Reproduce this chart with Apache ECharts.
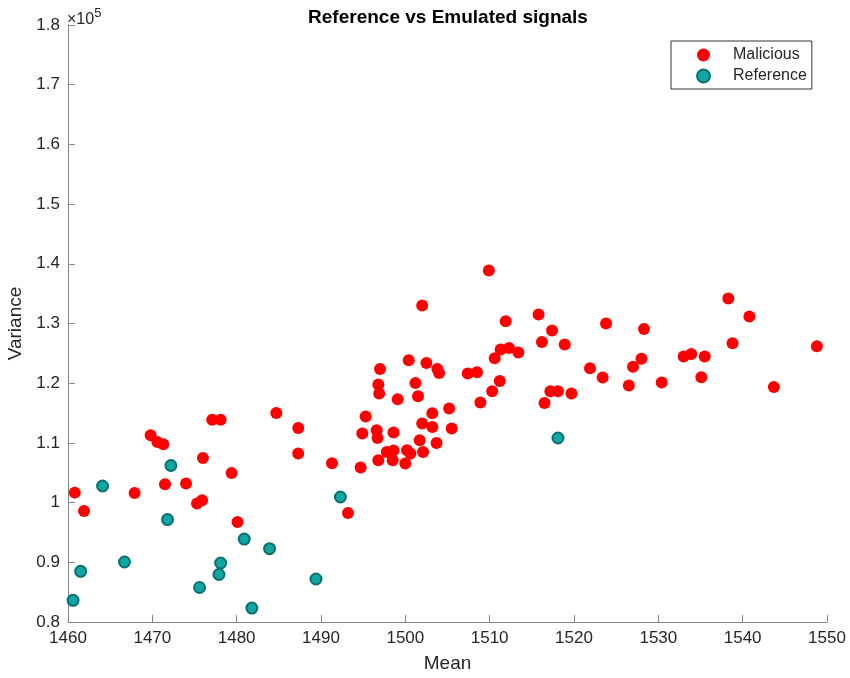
<!DOCTYPE html>
<html>
<head>
<meta charset="utf-8">
<script src="https://cdn.jsdelivr.net/npm/echarts@6/dist/echarts.min.js"></script>
<style>
  html, body { margin: 0; padding: 0; background: #fff; }
  #chart { width: 850px; height: 678px; }
</style>
</head>
<body>
<div id="chart"></div>
<script>
// Malicious signals: mean and variance
const maliciousMean = [
  1460.8, 1461.9, 1467.9, 1469.8, 1470.6, 1471.3, 1471.5, 1474.0, 1475.3, 1475.9,
  1476.0, 1477.1, 1478.1, 1479.4, 1480.1, 1484.7, 1487.3, 1487.3, 1491.3, 1493.2,
  1494.7, 1494.9, 1495.3, 1496.6, 1496.7, 1496.8, 1496.9, 1497.0, 1496.8, 1497.8,
  1498.6, 1498.5, 1498.6, 1499.1, 1500.0, 1500.2, 1500.6, 1500.4, 1501.2, 1501.5,
  1501.7, 1502.0, 1502.0, 1502.1, 1502.5, 1503.2, 1503.2, 1503.7, 1503.8, 1504.0,
  1505.2, 1505.5, 1507.4, 1508.5, 1508.9, 1509.9, 1510.3, 1510.6, 1511.2, 1511.3,
  1511.9, 1512.3, 1513.4, 1515.8, 1516.2, 1516.5, 1517.2, 1517.4, 1518.1, 1518.9,
  1519.7, 1521.9, 1523.4, 1523.8, 1526.5, 1527.0, 1528.0, 1528.3, 1530.4, 1533.0,
  1533.9, 1535.1, 1535.5, 1538.3, 1538.8, 1540.8, 1543.7, 1548.8
];
const maliciousVar = [
  101670, 98590, 101610, 111270, 110150, 109770, 103070, 103180, 99830, 100390,
  107470, 113870, 113870, 104960, 96750, 115010, 112500, 108210, 106580, 98260,
  105860, 111560, 114410, 112110, 110820, 119770, 118260, 122380, 107090, 108480,
  108710, 107090, 111730, 117300, 106530, 108760, 108210, 123840, 120030, 117810,
  110440, 113230, 133000, 108480, 123380, 114960, 112660, 109980, 122380, 121710,
  115750, 112400, 121610, 121830, 116750, 138860, 118640, 124170, 120370, 125630,
  130370, 125900, 125130, 131490, 126900, 116680, 118640, 128810, 118640, 126470,
  118260, 122500, 120940, 130000, 119610, 122750, 124090, 129080, 120100, 124460,
  124890, 120990, 124460, 134170, 126680, 131160, 119360, 126180
];

// Reference signals: mean and variance
const referenceMean = [
  1460.6, 1461.5, 1464.1, 1466.7, 1471.8, 1472.2, 1475.6, 1477.9, 1478.1, 1480.9,
  1481.8, 1483.9, 1489.4, 1492.3, 1518.1
];
const referenceVar = [
  83630, 88490, 102780, 90050, 97150, 106210, 85780, 87960, 89880, 93890,
  82330, 92290, 87200, 100940, 110820
];

// Axis tick values (variance ticks in units of 1e5)
const meanTicks = [1460, 1470, 1480, 1490, 1500, 1510, 1520, 1530, 1540, 1550];
const varianceTicks = [0.8, 0.9, 1.0, 1.1, 1.2, 1.3, 1.4, 1.5, 1.6, 1.7, 1.8];
const varianceScale = 1e5;

const pair = (xs, ys) => xs.map((x, i) => [x, ys[i]]);

const axisColor = '#868686';
const textColor = '#262626';
const fontFamily = 'Arial, "Liberation Sans", Helvetica, sans-serif';

const chart = echarts.init(document.getElementById('chart'), null, { renderer: 'canvas' });

chart.setOption({
  backgroundColor: '#ffffff',
  animation: false,
  title: {
    text: 'Reference vs Emulated signals',
    left: 443,
    top: 3,
    textAlign: 'center',
    textStyle: { fontFamily, fontSize: 19, fontWeight: 'bold', color: '#000' }
  },
  legend: {
    orient: 'vertical',
    left: 671,
    top: 41,
    padding: [6, 5, 5, 25],
    itemGap: 5,
    itemWidth: 13,
    itemHeight: 13,
    borderColor: '#333',
    borderWidth: 1,
    backgroundColor: '#fff',
    textStyle: { fontFamily, fontSize: 16, color: textColor, padding: [0, 0, 0, 18] },
    data: ['Malicious', 'Reference']
  },
  grid: { left: 68, right: 23, top: 25, bottom: 56, containLabel: false, outerBoundsMode: 'none' },
  xAxis: {
    type: 'value',
    min: meanTicks[0],
    max: meanTicks[meanTicks.length - 1],
    interval: meanTicks[1] - meanTicks[0],
    name: 'Mean',
    nameLocation: 'middle',
    nameGap: 32,
    nameTextStyle: { fontFamily, fontSize: 19, color: textColor },
    axisLine: { lineStyle: { color: axisColor, width: 1 } },
    axisTick: { inside: true, length: 7, lineStyle: { color: axisColor } },
    axisLabel: {
      fontFamily, fontSize: 17, color: textColor, margin: 8,
      formatter: v => String(v)
    },
    splitLine: { show: false }
  },
  yAxis: {
    type: 'value',
    min: varianceTicks[0] * varianceScale,
    max: varianceTicks[varianceTicks.length - 1] * varianceScale,
    interval: (varianceTicks[1] - varianceTicks[0]) * varianceScale,
    name: 'Variance',
    nameLocation: 'middle',
    nameGap: 36,
    nameTextStyle: { fontFamily, fontSize: 19, color: textColor },
    axisLine: { show: true, lineStyle: { color: axisColor, width: 1 } },
    axisTick: { show: true, inside: true, length: 7, lineStyle: { color: axisColor } },
    axisLabel: {
      fontFamily, fontSize: 17, color: textColor, margin: 8,
      formatter: v => String(+(v / varianceScale).toFixed(1))
    },
    splitLine: { show: false }
  },
  graphic: [{
    type: 'text',
    left: 67,
    top: 7,
    style: {
      text: '{t|×10}{s|5}',
      rich: {
        t: { fontFamily, fontSize: 16, fill: textColor, verticalAlign: 'bottom' },
        s: { fontFamily, fontSize: 13, fill: textColor, verticalAlign: 'top', padding: [0, 0, 8, 0] }
      }
    }
  }],
  series: [
    {
      name: 'Malicious',
      type: 'scatter',
      symbol: 'circle',
      symbolSize: 12,
      itemStyle: { color: '#ff0000', opacity: 1 },
      data: pair(maliciousMean, maliciousVar)
    },
    {
      name: 'Reference',
      type: 'scatter',
      symbol: 'circle',
      symbolSize: 11,
      itemStyle: { color: '#0fa6a6', borderColor: '#0a7070', borderWidth: 2, opacity: 1 },
      data: pair(referenceMean, referenceVar)
    }
  ]
});
</script>
</body>
</html>
